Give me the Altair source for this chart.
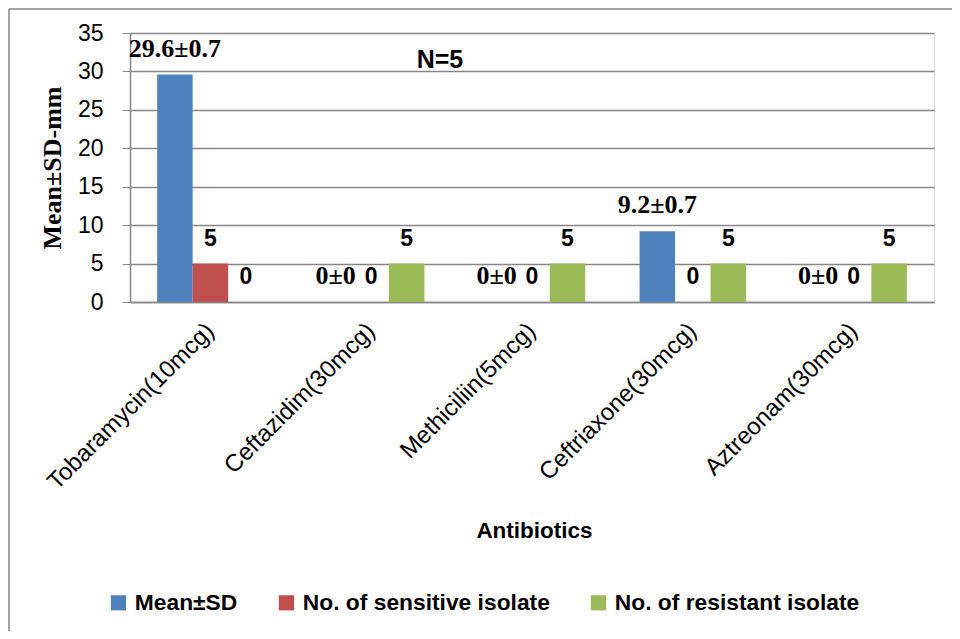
import altair as alt
import pandas as pd

antibiotics = ["Tobaramycin(10mcg)", "Ceftazidim(30mcg)", "Methiciliin(5mcg)",
               "Ceftriaxone(30mcg)", "Aztreonam(30mcg)"]
series = ["Mean±SD", "No. of sensitive isolate", "No. of resistant isolate"]
mean_sd = [29.6, 0, 0, 9.2, 0]
mean_sd_labels = ["29.6±0.7", "0±0", "0±0", "9.2±0.7", "0±0"]
sensitive = [5, 0, 0, 0, 0]
resistant = [0, 5, 5, 5, 5]
colors = ["#4F81BD", "#C0504D", "#9BBB59"]
annotation = ["N=5"]

rows = []
for i, ab in enumerate(antibiotics):
    rows.append({"ab": ab, "series": series[0], "value": mean_sd[i], "label": mean_sd_labels[i]})
    rows.append({"ab": ab, "series": series[1], "value": sensitive[i], "label": str(sensitive[i])})
    rows.append({"ab": ab, "series": series[2], "value": resistant[i], "label": str(resistant[i])})
df = pd.DataFrame(rows)

W, H = 804, 269
PL, PT, PR, PB = 122, 25, 18, 329
GRAY = "#868686"

x_enc = alt.X("ab:N", sort=antibiotics,
              scale=alt.Scale(paddingInner=0.338, paddingOuter=0.169),
              axis=alt.Axis(title="Antibiotics", labelAngle=-45, labelAlign="right",
                            labelBaseline="middle", labelPadding=25, ticks=False, labelLimit=0,
                            labelFont="Liberation Sans", labelFontSize=24, labelColor="black",
                            titleFont="Liberation Sans", titleFontSize=22.5, titleFontWeight="bold",
                            titleColor="black", titleX=W / 2 + 2, titleY=228,
                            titleBaseline="middle",
                            domainColor=GRAY, domainWidth=1.5))
xo_enc = alt.XOffset("series:N", sort=series, scale=alt.Scale(paddingInner=0, paddingOuter=0))
y_enc = alt.Y("value:Q", scale=alt.Scale(domain=[0, 35], nice=False),
              axis=alt.Axis(title="Mean±SD-mm", values=list(range(0, 36, 5)),
                            grid=True, gridColor=GRAY, gridWidth=1.5,
                            domainColor=GRAY, domainWidth=1.5, tickColor=GRAY, tickSize=8,
                            labelFont="Liberation Sans", labelFontSize=23, labelColor="black",
                            labelPadding=19,
                            titleFont="Liberation Serif", titleFontSize=26, titleFontWeight="bold",
                            titleColor="black", titleAngle=-90, titleX=-78, titleY=H / 2,
                            titleBaseline="middle"))

bars = alt.Chart(df).mark_bar(strokeWidth=0).encode(
    x=x_enc, xOffset=xo_enc, y=y_enc,
    color=alt.Color("series:N", sort=series,
                    scale=alt.Scale(domain=series, range=colors),
                    legend=alt.Legend(title=None, orient="none", direction="horizontal",
                                      legendX=-23, legendY=558,
                                      symbolType="square", symbolSize=230, symbolStrokeWidth=0,
                                      symbolOpacity=1, labelLimit=0,
                                      labelFont="Liberation Sans", labelFontSize=22.8,
                                      labelFontWeight="bold", labelColor="black",
                                      labelOffset=5, columnPadding=37)),
)

mean_text = alt.Chart(df).transform_filter(alt.datum.series == series[0]).mark_text(
    font="Liberation Serif", fontSize=26, fontWeight="bold", color="black",
    baseline="alphabetic", dy=-18
).encode(x=x_enc, xOffset=xo_enc, y=y_enc, text="label:N")

count_text = alt.Chart(df).transform_filter(alt.datum.series != series[0]).mark_text(
    font="Liberation Sans", fontSize=23, fontWeight="bold", color="black",
    baseline="alphabetic", dy=-18
).encode(x=x_enc, xOffset=xo_enc, y=y_enc, text="label:N")

n_text = alt.Chart(pd.DataFrame({"t": annotation})).mark_text(
    font="Liberation Sans", fontSize=25, fontWeight="bold", color="black", baseline="middle"
).encode(x=alt.value(310), y=alt.value(27), text="t:N")

frame = pd.DataFrame({"k": [0]})
top_border = alt.Chart(frame).mark_rule(color=GRAY, strokeWidth=1.5).encode(
    x=alt.value(-PL + 1), x2=alt.value(W + PR), y=alt.value(-PT + 1))
left_border = alt.Chart(frame).mark_rule(color=GRAY, strokeWidth=1.5).encode(
    x=alt.value(-PL + 1), y=alt.value(-PT + 1), y2=alt.value(H + PB))

chart = alt.layer(bars, mean_text, count_text, n_text, top_border, left_border).properties(
    width=W, height=H, padding={"left": PL, "top": PT, "right": PR, "bottom": PB},
    autosize=alt.AutoSizeParams(type="none"),
).configure_view(stroke=None).configure(background="white")

chart.save("out.html", embed_options={"renderer": "svg", "actions": False})
